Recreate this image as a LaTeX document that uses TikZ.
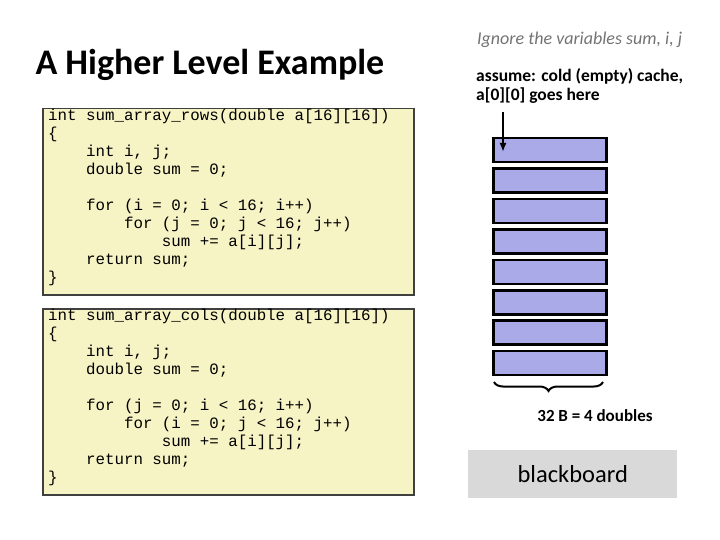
\documentclass[tikz,border=0pt]{standalone}
\usepackage{fontspec}
\setmainfont{Carlito}
\setmonofont{Liberation Mono}
\usetikzlibrary{decorations.pathreplacing,arrows.meta}
\begin{document}
\begin{tikzpicture}[x=1bp,y=-1bp,
  codebox/.style={draw=black!75,line width=1.5bp,fill={rgb,255:red,246;green,243;blue,196}},
  cell/.style={draw=black,line width=2.5bp,fill={rgb,255:red,170;green,170;blue,232},minimum width=113bp,minimum height=24bp,inner sep=0pt,anchor=north west},
  code/.style={anchor=north west,inner sep=0pt,align=left,font=\fontsize{15.8bp}{18bp}\selectfont\ttfamily}]
\useasboundingbox (0,0) rectangle (720,540);
\node[anchor=west,font=\fontsize{36bp}{40bp}\selectfont\bfseries] (title) at (32,65) {A Higher Level Example};
\node[codebox,anchor=north west,minimum width=371bp,minimum height=186bp] (box1) at (42,108) {};
\node[codebox,anchor=north west,minimum width=371bp,minimum height=186bp] (box2) at (42,308) {};
\node[code] (c1) at (48,109) {int sum\_array\_rows(double a[16][16])\\
\{\\
\ \ \ \ int i, j;\\
\ \ \ \ double sum = 0;\\
\strut\\
\ \ \ \ for (i = 0; i < 16; i++)\\
\ \ \ \ \ \ \ \ for (j = 0; j < 16; j++)\\
\ \ \ \ \ \ \ \ \ \ \ \ sum += a[i][j];\\
\ \ \ \ return sum;\\
\}};
\node[code] (c2) at (48,309) {int sum\_array\_cols(double a[16][16])\\
\{\\
\ \ \ \ int i, j;\\
\ \ \ \ double sum = 0;\\
\strut\\
\ \ \ \ for (j = 0; i < 16; i++)\\
\ \ \ \ \ \ \ \ for (i = 0; j < 16; j++)\\
\ \ \ \ \ \ \ \ \ \ \ \ sum += a[i][j];\\
\ \ \ \ return sum;\\
\}};
\node[anchor=west,inner sep=0pt,text=black!55,font=\fontsize{18bp}{21bp}\selectfont\itshape] (ign) at (477,40) {Ignore the variables sum, i, j};
\node[anchor=north west,align=left,inner sep=0pt,font=\fontsize{17.5bp}{19.5bp}\selectfont\bfseries] (assume) at (476,68) {assume: cold (empty) cache,\\a[0][0] goes here};
\foreach \i in {0,...,7}{
  \node[cell] (m\i) at (492,137+30.4*\i) {};
}
\coordinate (astart) at (503,112);
\coordinate (aend) at (503,152);
\draw[line width=2bp,-{Latex[length=9bp,width=7bp]}] (astart) -- (aend);
\draw[line width=2bp,decorate,decoration={brace,mirror,amplitude=9bp}] (494,382) -- (603,382);
\node[font=\fontsize{17bp}{19bp}\selectfont\bfseries] (lbl) at (595,416) {32 B = 4 doubles};
\node[fill=black!15,minimum width=209bp,minimum height=48bp,anchor=north west,inner sep=0pt] (bb) at (468,450) {};
\node[font=\fontsize{24.5bp}{28bp}\selectfont] at (bb.center) {blackboard};
\end{tikzpicture}
\end{document}
